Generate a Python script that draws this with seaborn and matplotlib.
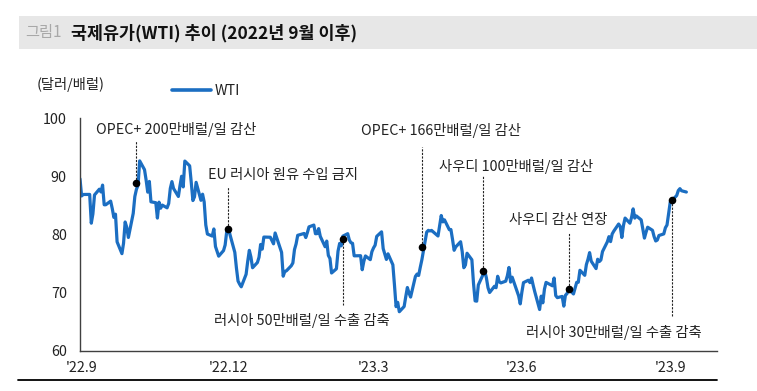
import matplotlib
matplotlib.use("Agg")
import matplotlib.pyplot as plt
import matplotlib.lines as mlines
import matplotlib.patches as mpatches
import pandas as pd
import seaborn as sns

# ---------------- data ----------------
trade_dates = (
    ["2022-08-31"]
    + ["2022-09-%02d" % d for d in [1, 2, 6, 7, 8, 9, 12, 13, 14, 15, 16, 19, 20, 21, 22, 23, 26, 27, 28, 29, 30]]
    + ["2022-10-%02d" % d for d in [3, 4, 5, 6, 7, 10, 11, 12, 13, 14, 17, 18, 19, 20, 21, 24, 25, 26, 27, 28, 31]]
    + ["2022-11-%02d" % d for d in [1, 2, 3, 4, 7, 8, 9, 10, 11, 14, 15, 16, 17, 18, 21, 22, 23, 25, 28, 29, 30]]
    + ["2022-12-%02d" % d for d in [1, 2, 5, 6, 7, 8, 9, 12, 13, 14, 15, 16, 19, 20, 21, 22, 23, 27, 28, 29, 30]]
    + ["2023-01-%02d" % d for d in [3, 4, 5, 6, 9, 10, 11, 12, 13, 17, 18, 19, 20, 23, 24, 25, 26, 27, 30, 31]]
    + ["2023-02-%02d" % d for d in [1, 2, 3, 6, 7, 8, 9, 10, 13, 14, 15, 16, 17, 21, 22, 23, 24, 27, 28]]
    + ["2023-03-%02d" % d for d in [1, 2, 3, 6, 7, 8, 9, 10, 13, 14, 15, 16, 17, 20, 21, 22, 23, 24, 27, 28, 29, 30, 31]]
    + ["2023-04-%02d" % d for d in [3, 4, 5, 6, 10, 11, 12, 13, 14, 17, 18, 19, 20, 21, 24, 25, 26, 27, 28]]
    + ["2023-05-%02d" % d for d in [1, 2, 3, 4, 5, 8, 9, 10, 11, 12, 15, 16, 17, 18, 19, 22, 23, 24, 25, 26, 30, 31]]
    + ["2023-06-%02d" % d for d in [1, 2, 5, 6, 7, 8, 9, 12, 13, 14, 15, 16, 20, 21, 22, 23, 26, 27, 28, 29, 30]]
    + ["2023-07-%02d" % d for d in [3, 5, 6, 7, 10, 11, 12, 13, 14, 17, 18, 19, 20, 21, 24, 25, 26, 27, 28, 31]]
    + ["2023-08-%02d" % d for d in [1, 2, 3, 4, 7, 8, 9, 10, 11, 14, 15, 16, 17, 18, 21, 22, 23, 24, 25, 28, 29, 30, 31]]
    + ["2023-09-%02d" % d for d in [1, 5, 6, 7, 8, 11]]
)

wti_close = [
    89.55,
    86.61, 86.87, 86.88, 81.94, 83.54, 86.79, 87.78, 87.31, 88.48, 85.10, 85.11, 85.73, 84.45, 82.94, 83.49, 78.74, 76.71, 78.50, 82.15, 81.23, 79.49,
    83.63, 86.52, 87.76, 88.45, 92.64, 91.13, 89.35, 87.27, 89.11, 85.61, 85.46, 82.82, 85.55, 84.51, 85.05, 84.58, 85.32, 87.91, 89.08, 87.90, 86.53,
    88.37, 90.00, 88.17, 92.61, 91.79, 88.91, 85.83, 86.47, 88.96, 85.87, 86.92, 85.59, 81.64, 80.08, 79.73, 80.95, 77.94, 76.28, 77.24, 78.20, 80.55,
    81.22, 79.98, 76.93, 74.25, 72.01, 71.46, 71.02, 73.17, 75.39, 77.28, 76.11, 74.29, 75.19, 76.09, 78.29, 77.49, 79.56, 79.53, 78.96, 78.40, 80.26,
    76.93, 72.84, 73.67, 73.77, 74.63, 75.12, 77.41, 78.39, 79.86, 80.18, 79.48, 80.33, 81.31, 81.62, 80.13, 80.15, 81.01, 79.68, 77.90, 78.87,
    76.41, 75.88, 73.39, 74.11, 77.14, 78.47, 78.06, 79.72, 80.14, 79.06, 78.59, 78.49, 76.34, 76.36, 73.95, 75.39, 76.32, 75.68, 77.05,
    77.69, 78.16, 79.68, 80.46, 77.58, 76.66, 75.72, 76.68, 74.80, 71.33, 67.61, 68.35, 66.74, 67.64, 69.33, 70.90, 69.96, 69.26, 72.81, 73.20, 72.97, 74.37, 75.67,
    80.42, 80.71, 80.61, 80.70, 79.74, 81.53, 83.26, 82.16, 82.52, 80.83, 80.86, 79.16, 77.29, 77.87, 78.76, 77.07, 74.30, 74.76, 76.78,
    75.66, 71.66, 68.60, 68.56, 71.34, 73.16, 73.71, 72.56, 70.87, 70.04, 71.11, 70.86, 72.83, 71.86, 71.69, 71.99, 72.91, 74.34, 71.83, 72.67, 69.46, 68.09,
    70.10, 71.74, 72.15, 71.74, 72.53, 71.29, 70.17, 67.12, 69.42, 68.27, 70.62, 71.78, 71.19, 72.53, 69.51, 69.16, 69.37, 67.70, 69.56, 69.86, 70.64,
    69.79, 71.79, 71.80, 73.86, 72.99, 74.83, 75.75, 76.89, 75.42, 74.15, 75.75, 75.35, 75.63, 77.07, 78.74, 79.63, 78.78, 80.09, 80.58, 81.80,
    81.37, 79.49, 81.55, 82.82, 81.94, 82.92, 84.40, 82.82, 83.19, 82.51, 80.99, 79.38, 80.39, 81.25, 80.72, 79.64, 78.89, 79.05, 79.83, 80.10, 81.16, 81.63, 83.63,
    85.55, 86.69, 87.54, 87.87, 87.51, 87.29,
]

event_labels = [
    "OPEC+ 200만배럴/일 감산",
    "EU 러시아 원유 수입 금지",
    "러시아 50만배럴/일 수출 감축",
    "OPEC+ 166만배럴/일 감산",
    "사우디 100만배럴/일 감산",
    "사우디 감산 연장",
    "러시아 30만배럴/일 수출 감축",
]
event_dates = ["2022-10-05", "2022-12-01", "2023-02-10", "2023-03-31", "2023-05-08", "2023-06-30", "2023-09-02"]
event_values = [88.9, 80.9, 79.2, 77.9, 73.8, 70.7, 86.0]

tick_dates = ["2022-09-01", "2022-12-01", "2023-03-01", "2023-06-01", "2023-09-01"]
tick_labels = ["'22.9", "'22.12", "'23.3", "'23.6", "'23.9"]
y_ticks = [60, 70, 80, 90, 100]

# ---------------- layout (positions / styles) ----------------
label_y = [97.94, 90.2, 65.3, 97.77, 91.6, 82.5, 63.26]          # text centre level
label_dx_px = [-40, -20, -129, -61, -44, -60, -146]             # text left edge vs dot
leader_end = [96.05, 88.15, 67.9, 95.0, 90.2, 80.26, 65.84]     # dashed line end

LINE_COLOR = "#1B6EC2"
W, H = 757, 391

sns.set_theme(style="white")
plt.rcParams["font.family"] = ["Noto Sans CJK KR", "DejaVu Sans"]
plt.rcParams["axes.unicode_minus"] = False

df = pd.DataFrame({"date": pd.to_datetime(trade_dates), "WTI": wti_close})

fig = plt.figure(figsize=(W / 100, H / 100), dpi=100)
fig.patch.set_facecolor("white")
ax = fig.add_axes([80 / W, (H - 351) / H, 637 / W, 233 / H])
ax.set_facecolor("white")

sns.lineplot(data=df, x="date", y="WTI", ax=ax, color=LINE_COLOR, linewidth=2.3,
             label="WTI", legend=False)

ev_dates = pd.to_datetime(event_dates)
for i in range(len(event_labels)):
    ax.plot([ev_dates[i], ev_dates[i]], [event_values[i], leader_end[i]],
            color="#222222", linewidth=0.8, linestyle=(0, (2, 1.2)), zorder=3)
    ax.annotate(event_labels[i], xy=(ev_dates[i], label_y[i]),
                xytext=(label_dx_px[i] * 0.72, 0), textcoords="offset points",
                ha="left", va="center", fontsize=10.3, color="#222222")
sns.scatterplot(x=ev_dates, y=event_values, ax=ax, color="black", s=30,
                edgecolor="black", linewidth=0, zorder=5, legend=False)

ax.set_xlim(pd.Timestamp("2022-08-31"), pd.Timestamp("2023-09-30"))
ax.set_ylim(60, 100)
ax.set_xticks(pd.to_datetime(tick_dates))
ax.set_xticklabels(tick_labels)
ax.set_yticks(y_ticks)
ax.set_yticklabels([str(v) for v in y_ticks])
ax.set_xlabel("")
ax.set_ylabel("")
for s in ["top", "right"]:
    ax.spines[s].set_visible(False)
for s in ["left", "bottom"]:
    ax.spines[s].set_color("#404040")
    ax.spines[s].set_linewidth(1.0)
ax.tick_params(axis="both", which="major", direction="out", length=3.5, width=1.0,
               color="#404040", labelsize=10.3, labelcolor="#222222")
ax.tick_params(axis="y", pad=6)
ax.tick_params(axis="x", pad=4)
ax.grid(False)

# legend
handle = mlines.Line2D([], [], color=LINE_COLOR, linewidth=2.6)
fig.legend([handle], ["WTI"], loc="center left", bbox_to_anchor=(172 / W, 1 - 91 / H),
           frameon=False, handlelength=2.7, handletextpad=0.3, borderpad=0,
           borderaxespad=0, fontsize=10.3, labelcolor="#222222")

# unit label
fig.text(37 / W, 1 - 84 / H, "(달러/배럴)", fontsize=10.3, color="#222222",
         ha="left", va="center")

# title bar
fig.patches.append(mpatches.Rectangle((19 / W, 1 - 49 / H), 1 - 19 / W, 33 / H,
                                      transform=fig.transFigure, facecolor="#e7e7e7",
                                      edgecolor="none", zorder=0))
fig.text(25 / W, 1 - 33 / H, "그림1", fontsize=11, color="#a8a8a8", ha="left", va="center")
fig.text(71 / W, 1 - 33 / H, "국제유가(WTI) 추이 (2022년 9월 이후)", fontsize=12.5,
         fontweight="bold", color="#111111", ha="left", va="center")

# bottom rule
fig.lines.append(mlines.Line2D([18 / W, 717 / W], [1 - 380 / H, 1 - 380 / H],
                               transform=fig.transFigure, color="black", linewidth=1.3))

fig.savefig("out.png", dpi=100, facecolor="white")
